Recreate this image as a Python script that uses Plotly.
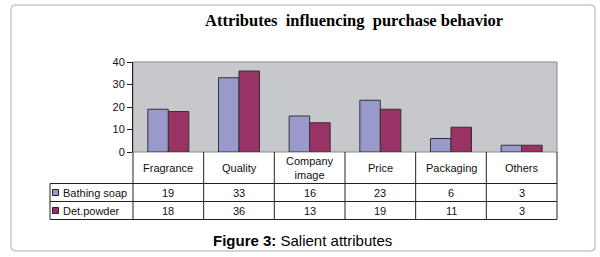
import plotly.graph_objects as go

categories = ["Fragrance", "Quality", "Company image", "Price", "Packaging", "Others"]
header_labels = ["Fragrance", "Quality", "Company<br>image", "Price", "Packaging", "Others"]
series_names = ["Bathing soap", "Det.powder"]
bathing_soap = [19, 33, 16, 23, 6, 3]
det_powder = [18, 36, 13, 19, 11, 3]
y_ticks = [0, 10, 20, 30, 40]
colors = ["#9999CC", "#993366"]

W, H = 600, 257
L, R, T, B = 133, 43, 62, 105
PW, PH = W - L - R, H - T - B
Y0 = T + PH  # pixel y of zero line


def px(x):
    return (x - L) / PW


def py(y):
    return (Y0 - y) / PH


fig = go.Figure()
for name, vals, c in zip(series_names, [bathing_soap, det_powder], colors):
    fig.add_trace(go.Bar(x=categories, y=vals, name=name, marker=dict(color=c, line=dict(color="#333333", width=1)),
                         showlegend=False, hoverinfo="x+y+name"))

shapes = []
shapes.append(dict(type="rect", xref="paper", yref="paper", x0=0, x1=1, y0=0, y1=1,
                   line=dict(color="#8a8a8a", width=1), layer="below"))
x0, x1, y0, y1 = px(11), px(595), py(5), py(251)
rx, ry = 5 / PW, 5 / PH
path = (f"M {x0+rx},{y0} L {x1-rx},{y0} Q {x1},{y0} {x1},{y0-ry} L {x1},{y1+ry} Q {x1},{y1} {x1-rx},{y1} "
        f"L {x0+rx},{y1} Q {x0},{y1} {x0},{y1+ry} L {x0},{y0-ry} Q {x0},{y0} {x0+rx},{y0} Z")
shapes.append(dict(type="path", xref="paper", yref="paper", path=path, line=dict(color="#c8c8c8", width=1.5)))

lc = dict(color="#222222", width=1)
row_h = [183.5, 201.5, 219.5]
for yy in row_h:
    shapes.append(dict(type="line", xref="paper", yref="paper", x0=px(50), x1=1, y0=py(yy), y1=py(yy), line=lc))
n = len(categories)
for i in range(n + 1):
    shapes.append(dict(type="line", xref="paper", yref="paper", x0=i / n, x1=i / n, y0=0, y1=py(219.5), line=lc))
shapes.append(dict(type="line", xref="paper", yref="paper", x0=px(50), x1=px(50), y0=py(183.5), y1=py(219.5), line=lc))

annotations = []
font_t = dict(family="Liberation Sans, Arial", size=11, color="#111111")
for cat, lab in zip(categories, header_labels):
    annotations.append(dict(x=cat, xref="x", y=py(167.5), yref="paper", text=lab, showarrow=False,
                            xanchor="center", yanchor="middle", font=font_t))
row_centers = [192.5, 210.5]
for si, (name, vals) in enumerate(zip(series_names, [bathing_soap, det_powder])):
    yc = py(row_centers[si])
    for cat, v in zip(categories, vals):
        annotations.append(dict(x=cat, xref="x", y=yc, yref="paper", text=str(v), showarrow=False,
                                xanchor="center", yanchor="middle", font=font_t))
    annotations.append(dict(x=px(61), xref="paper", y=yc, yref="paper", text=name, showarrow=False,
                            xanchor="left", yanchor="middle",
                            font=dict(family="Liberation Sans, Arial", size=11, color="#111111")))
    shapes.append(dict(type="rect", xref="paper", yref="paper", x0=px(52.5), x1=px(58.5),
                       y0=yc - 3 / PH, y1=yc + 3 / PH, fillcolor=colors[si], line=dict(color="#222222", width=1)))

annotations.append(dict(x=px(354), xref="paper", y=py(20), yref="paper",
                        text="<b>Attributes  influencing  purchase behavior</b>", showarrow=False,
                        xanchor="center", yanchor="middle",
                        font=dict(family="Liberation Serif, Times New Roman", size=16.5, color="#000000")))
annotations.append(dict(x=px(302.5), xref="paper", y=py(240), yref="paper",
                        text="<b>Figure 3:</b> Salient attributes", showarrow=False,
                        xanchor="center", yanchor="middle",
                        font=dict(family="Liberation Sans, Arial", size=15, color="#000000")))

fig.update_layout(
    width=W, height=H, margin=dict(l=L, r=R, t=T, b=B),
    paper_bgcolor="white", plot_bgcolor="#C7C8CC",
    barmode="group", bargap=0.42, bargroupgap=0,
    shapes=shapes, annotations=annotations, showlegend=False,
    xaxis=dict(showticklabels=False, showgrid=False, zeroline=False, showline=False, ticks=""),
    yaxis=dict(range=[0, 40], tickvals=y_ticks, showgrid=False, zeroline=False, showline=True,
               linecolor="#222222", linewidth=1, ticks="outside", ticklen=5, tickcolor="#222222",
               tickfont=dict(family="Liberation Sans, Arial", size=11, color="#111111")),
)

fig.write_html("out.html", config={"displayModeBar": False},
               post_script="document.body.style.margin='0';document.body.style.overflow='hidden';")
